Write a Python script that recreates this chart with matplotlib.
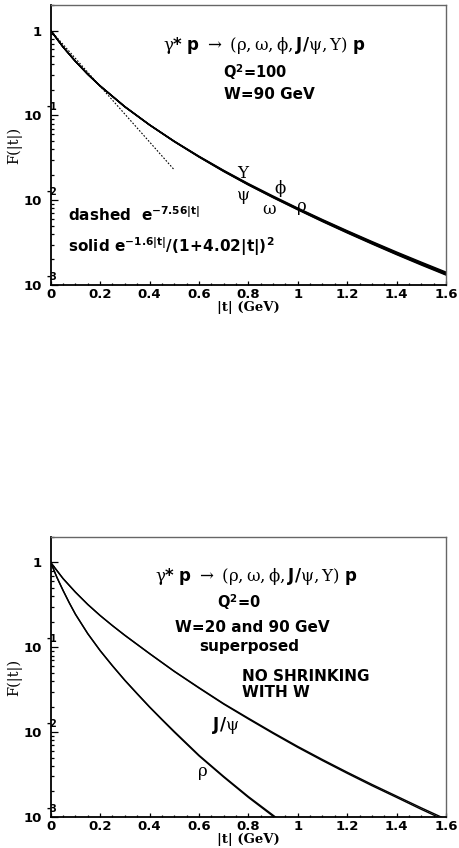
import numpy as np
import matplotlib.pyplot as plt
from matplotlib.ticker import MultipleLocator, LogLocator, FuncFormatter, NullFormatter

# mathtext: greek in serif, \mathbf in bold sans (ROOT-like look)
plt.rcParams['mathtext.fontset'] = 'custom'
plt.rcParams['mathtext.rm'] = 'DejaVu Serif'
plt.rcParams['mathtext.it'] = 'DejaVu Serif'
plt.rcParams['mathtext.bf'] = 'DejaVu Sans:bold'
plt.rcParams['mathtext.sf'] = 'DejaVu Sans'

# ==========================================
# DATA
# ==========================================
# upper panel, Q^2=100, W=90 GeV
t_top = [0, 0.05, 0.1, 0.15, 0.2, 0.3, 0.4, 0.5, 0.6, 0.7, 0.8, 0.9, 1.0, 1.1, 1.2, 1.3, 1.4, 1.5, 1.6]
f_upsilon = [1.0, 0.640, 0.434, 0.306, 0.223, 0.127, 0.0776, 0.0497, 0.0330, 0.0225, 0.0157, 0.0112,
             0.00808, 0.00591, 0.00437, 0.00326, 0.00245, 0.00186, 0.00142]
f_jpsi_top = [1.0, 0.640, 0.434, 0.306, 0.223, 0.127, 0.0774, 0.0495, 0.0328, 0.0223, 0.0155, 0.0110,
              0.00797, 0.00582, 0.00430, 0.00320, 0.00240, 0.00182, 0.00139]
f_phi = [1.0, 0.640, 0.433, 0.305, 0.222, 0.126, 0.0772, 0.0493, 0.0326, 0.0221, 0.0153, 0.0109,
         0.00786, 0.00573, 0.00422, 0.00314, 0.00235, 0.00178, 0.00136]
f_omega = [1.0, 0.639, 0.433, 0.305, 0.222, 0.126, 0.0770, 0.0491, 0.0324, 0.0219, 0.0152, 0.0108,
           0.00777, 0.00565, 0.00416, 0.00309, 0.00231, 0.00175, 0.00133]
f_rho_top = [1.0, 0.639, 0.432, 0.304, 0.221, 0.126, 0.0769, 0.0490, 0.0323, 0.0218, 0.0151, 0.0107,
             0.00770, 0.00559, 0.00411, 0.00305, 0.00228, 0.00172, 0.00131]

t_dash = [0, 0.1, 0.2, 0.3, 0.4, 0.5]
f_dash = [1.0, 0.4695, 0.2204, 0.1035, 0.0486, 0.0228]

# lower panel, Q^2=0, W=20 and 90 GeV
t_jpsi = [0, 0.05, 0.1, 0.15, 0.2, 0.25, 0.3, 0.4, 0.5, 0.6, 0.7, 0.8, 0.9, 1.0, 1.1, 1.2, 1.3, 1.4, 1.5, 1.6]
f_jpsi_w90 = [1.0, 0.646, 0.447, 0.320, 0.237, 0.180, 0.138, 0.0841, 0.0519, 0.0331, 0.0214, 0.0143,
              0.00966, 0.00661, 0.00462, 0.00327, 0.00234, 0.00170, 0.00123, 0.000902]
f_jpsi_w20 = [1.0, 0.646, 0.447, 0.320, 0.237, 0.180, 0.139, 0.0846, 0.0523, 0.0335, 0.0217, 0.0146,
              0.00988, 0.00678, 0.00475, 0.00337, 0.00242, 0.00176, 0.00128, 0.00094]

t_rho = [0, 0.025, 0.05, 0.075, 0.1, 0.15, 0.2, 0.25, 0.3, 0.35, 0.4, 0.45, 0.5, 0.6, 0.7, 0.8, 0.9, 0.95]
f_rho_w90 = [1.0, 0.668, 0.468, 0.335, 0.245, 0.1445, 0.0912, 0.0603, 0.0407, 0.0282, 0.0197, 0.0140,
             0.0100, 0.00525, 0.00295, 0.00170, 0.00102, 0.00079]
f_rho_w20 = [1.0, 0.668, 0.468, 0.335, 0.246, 0.1450, 0.0917, 0.0607, 0.0410, 0.0285, 0.0199, 0.0142,
             0.0102, 0.00535, 0.00301, 0.00174, 0.00105, 0.00081]

REACTION = r"$\gamma\mathbf{*}\ \mathbf{p}\ \rightarrow\ (\rho,\omega,\phi,\mathbf{J/}\psi,\Upsilon)\ \mathbf{p}$"
SANS_B = dict(family='DejaVu Sans', fontweight='bold')

# ==========================================
# FIGURE
# ==========================================
fig = plt.figure(figsize=(4.59, 8.48), dpi=100)
ax_top = fig.add_axes([0.1105, 0.6639, 0.8612, 0.3302])
ax_bot = fig.add_axes([0.1105, 0.0366, 0.8612, 0.3302])


def style_axes(ax):
    ax.set_yscale('log')
    ax.set_xlim(0, 1.6)
    ax.set_ylim(1e-3, 2)
    ax.xaxis.set_major_locator(MultipleLocator(0.2))
    ax.xaxis.set_minor_locator(MultipleLocator(0.05))
    ax.xaxis.set_major_formatter(FuncFormatter(lambda v, p: f"{v:g}"))
    ax.yaxis.set_major_locator(LogLocator(base=10, numticks=10))
    ax.yaxis.set_minor_locator(LogLocator(base=10, subs=np.arange(2, 10), numticks=20))
    ax.yaxis.set_minor_formatter(NullFormatter())
    ax.yaxis.set_major_formatter(FuncFormatter(lambda v, p: "1" if abs(v - 1) < 1e-9 else "10"))
    ax.tick_params(axis='both', which='both', direction='in', top=False, right=False, width=0.9)
    ax.tick_params(axis='x', which='major', length=3.2, pad=2.5)
    ax.tick_params(axis='x', which='minor', length=1.8)
    ax.tick_params(axis='y', which='major', length=5, pad=6.5)
    ax.tick_params(axis='y', which='minor', length=2.5)
    for lab in ax.get_xticklabels() + ax.get_yticklabels():
        lab.set_fontfamily('DejaVu Sans')
        lab.set_fontweight('bold')
        lab.set_fontsize(9.5)
    for side in ['left', 'bottom']:
        ax.spines[side].set_linewidth(1.3)
        ax.spines[side].set_color('black')
    for side in ['top', 'right']:
        ax.spines[side].set_linewidth(1.0)
        ax.spines[side].set_color('#666666')
    # ROOT style exponents next to the "10"
    for val, ex in [(1e-1, "-1"), (1e-2, "-2"), (1e-3, "-3")]:
        ax.annotate(ex, xy=(0, val), xycoords=('axes fraction', 'data'),
                    xytext=(-4, 8), textcoords='offset pixels', ha='left', va='center',
                    fontsize=7, annotation_clip=False, **SANS_B)
    ax.set_xlabel("|t| (GeV)", family='DejaVu Serif', fontweight='bold', fontsize=9.5, labelpad=-0.5)
    ax.set_ylabel("F(|t|)", family='DejaVu Serif', fontsize=10.5, labelpad=1)


# ---- upper panel ----
ax = ax_top
style_axes(ax)
for f in [f_upsilon, f_jpsi_top, f_phi, f_omega, f_rho_top]:
    ax.plot(t_top, f, color='black', lw=1.0)
ax.plot(t_dash, f_dash, color='black', lw=0.8, dashes=(1.5, 1.5))

ax.text(0.284, 0.857, REACTION, fontsize=12, ha='left', va='center', transform=ax.transAxes)
ax.text(0.436, 0.761, r"Q$^{\mathbf{2}}$=100", fontsize=10.5, ha='left', va='center',
        transform=ax.transAxes, **SANS_B)
ax.text(0.438, 0.679, "W=90 GeV", fontsize=11, ha='left', va='center', transform=ax.transAxes, **SANS_B)
ax.text(0.044, 0.25, r"dashed  $\mathbf{e^{-7.56|t|}}$", fontsize=11, ha='left', va='center',
        transform=ax.transAxes, **SANS_B)
ax.text(0.044, 0.137, r"solid $\mathbf{e^{-1.6|t|}/(1\!+\!4.02|t|)^2}$", fontsize=11, ha='left',
        va='center', transform=ax.transAxes, **SANS_B)

for lab, x, y in [("Υ", 0.471, 0.40), ("ψ", 0.471, 0.321), ("ϕ", 0.565, 0.343),
                  ("ω", 0.535, 0.268), ("ρ", 0.623, 0.279)]:
    ax.text(x, y, lab, family='DejaVu Serif', fontsize=12, ha='left', va='center',
            transform=ax.transAxes)

# ---- lower panel ----
ax = ax_bot
style_axes(ax)
for f in [f_jpsi_w90, f_jpsi_w20]:
    ax.plot(t_jpsi, f, color='black', lw=1.0)
for f in [f_rho_w90, f_rho_w20]:
    ax.plot(t_rho, f, color='black', lw=1.0)

ax.text(0.264, 0.857, REACTION, fontsize=12, ha='left', va='center', transform=ax.transAxes)
ax.text(0.421, 0.768, r"Q$^{\mathbf{2}}$=0", fontsize=10.5, ha='left', va='center',
        transform=ax.transAxes, **SANS_B)
ax.text(0.314, 0.675, "W=20 and 90 GeV", fontsize=11, ha='left', va='center',
        transform=ax.transAxes, **SANS_B)
ax.text(0.375, 0.607, "superposed", fontsize=11, ha='left', va='center',
        transform=ax.transAxes, **SANS_B)
ax.text(0.484, 0.50, "NO SHRINKING", fontsize=11, ha='left', va='center',
        transform=ax.transAxes, **SANS_B)
ax.text(0.484, 0.443, "WITH W", fontsize=11, ha='left', va='center',
        transform=ax.transAxes, **SANS_B)
ax.text(0.408, 0.325, r"$\mathbf{J/}\psi$", fontsize=12, ha='left', va='center',
        transform=ax.transAxes)
ax.text(0.373, 0.161, "ρ", family='DejaVu Serif', fontsize=12, ha='left', va='center',
        transform=ax.transAxes)

fig.savefig("out.png", dpi=100)
